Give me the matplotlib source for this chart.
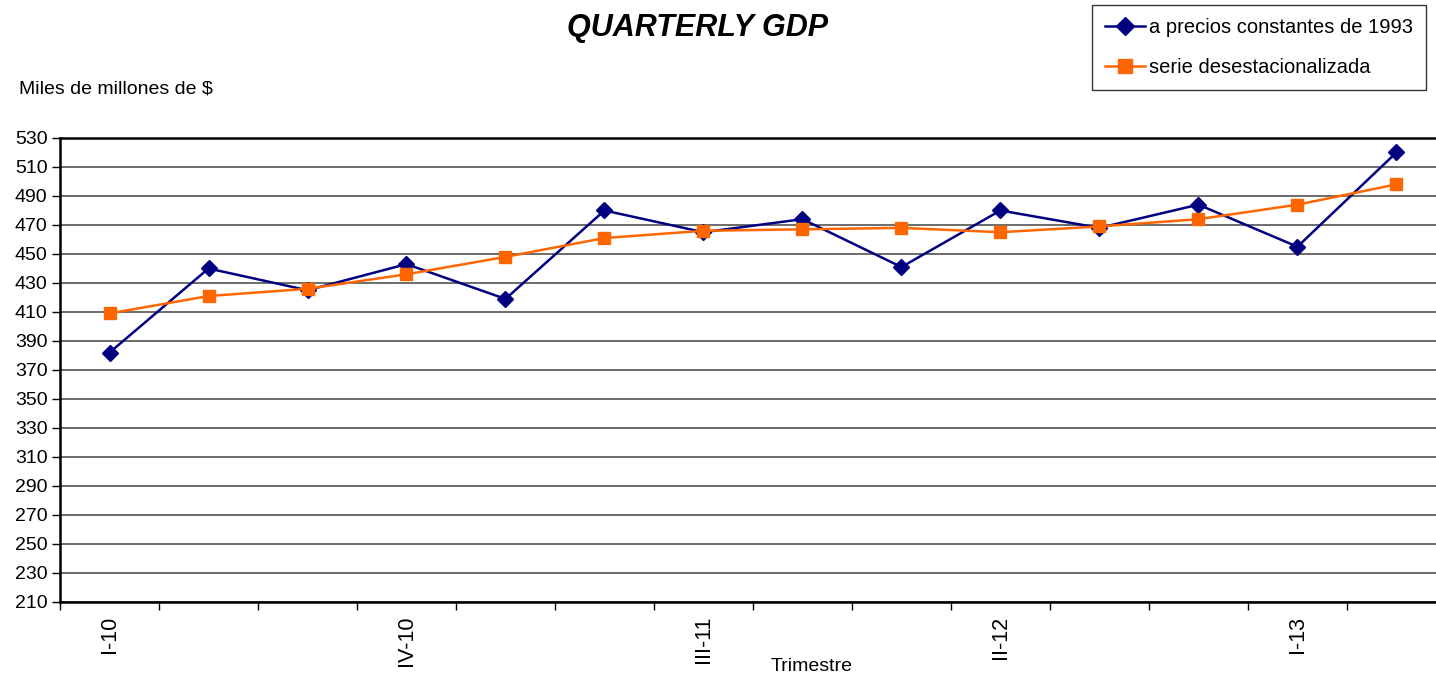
import numpy as np
from matplotlib import pyplot as plt

plt.rcParams['font.family'] = ['Liberation Sans', 'DejaVu Sans']

quarters = ['I-10', 'II-10', 'III-10', 'IV-10', 'I-11', 'II-11', 'III-11',
            'IV-11', 'I-12', 'II-12', 'III-12', 'IV-12', 'I-13', 'II-13']
constant_1993 = [382, 440, 425, 443, 419, 480, 465, 474, 441, 480, 468, 484, 455, 520]
seasonally_adj = [409, 421, 426, 436, 448, 461, 466, 467, 468, 465, 469, 474, 484, 498]
y_ticks = list(range(210, 531, 20))

x = np.arange(len(quarters))

fig = plt.figure(figsize=(14.36, 6.78), dpi=100)
ax = fig.add_axes([0.0418, 0.1121, 0.9582, 0.6844])

ax.plot(x, constant_1993, color='#000080', marker='D', markersize=8,
        linewidth=1.8, label='a precios constantes de 1993')
ax.plot(x, seasonally_adj, color='#FF6600', marker='s', markersize=8.5,
        linewidth=1.8, label='serie desestacionalizada')

ax.set_yticks(y_ticks)
ax.set_ylim(210, 530)
ax.set_xticks(x[::3])
ax.set_xticklabels([quarters[i] for i in range(0, len(quarters), 3)], rotation=90)
ax.set_xticks(np.arange(-0.5, 14, 1), minor=True)
ax.set_xlim(-0.5, 13.4)
ax.tick_params(axis='x', which='major', length=0, pad=10, labelsize=15.5)
ax.tick_params(axis='x', which='minor', length=6, width=1, color='black')
ax.tick_params(axis='y', length=6, width=1, labelsize=14, pad=3)

ax.grid(axis='y', color='#606060', linewidth=1.3)
ax.set_axisbelow(True)
for side in ['top', 'bottom', 'left']:
    ax.spines[side].set_linewidth(1.8)
    ax.spines[side].set_color('black')
ax.spines['right'].set_visible(False)

fig.text(0.486, 0.958, 'QUARTERLY GDP', fontsize=22, fontweight='bold',
         fontstyle='italic', ha='center', va='center')
fig.text(0.013, 0.868, 'Miles de millones de $', fontsize=14, ha='left', va='center')
fig.text(0.565, 0.017, 'Trimestre', fontsize=14, ha='center', va='center')

leg = fig.legend(loc='upper left', bbox_to_anchor=(0.7604, 0.9926), fontsize=14.5,
                 frameon=True, fancybox=False, edgecolor='black', borderpad=0.63,
                 handlelength=2.0, labelspacing=1.05, handletextpad=0.2,
                 borderaxespad=0.0, markerscale=1.15)
leg.get_frame().set_linewidth(1.0)

plt.savefig('out.png', dpi=100)
